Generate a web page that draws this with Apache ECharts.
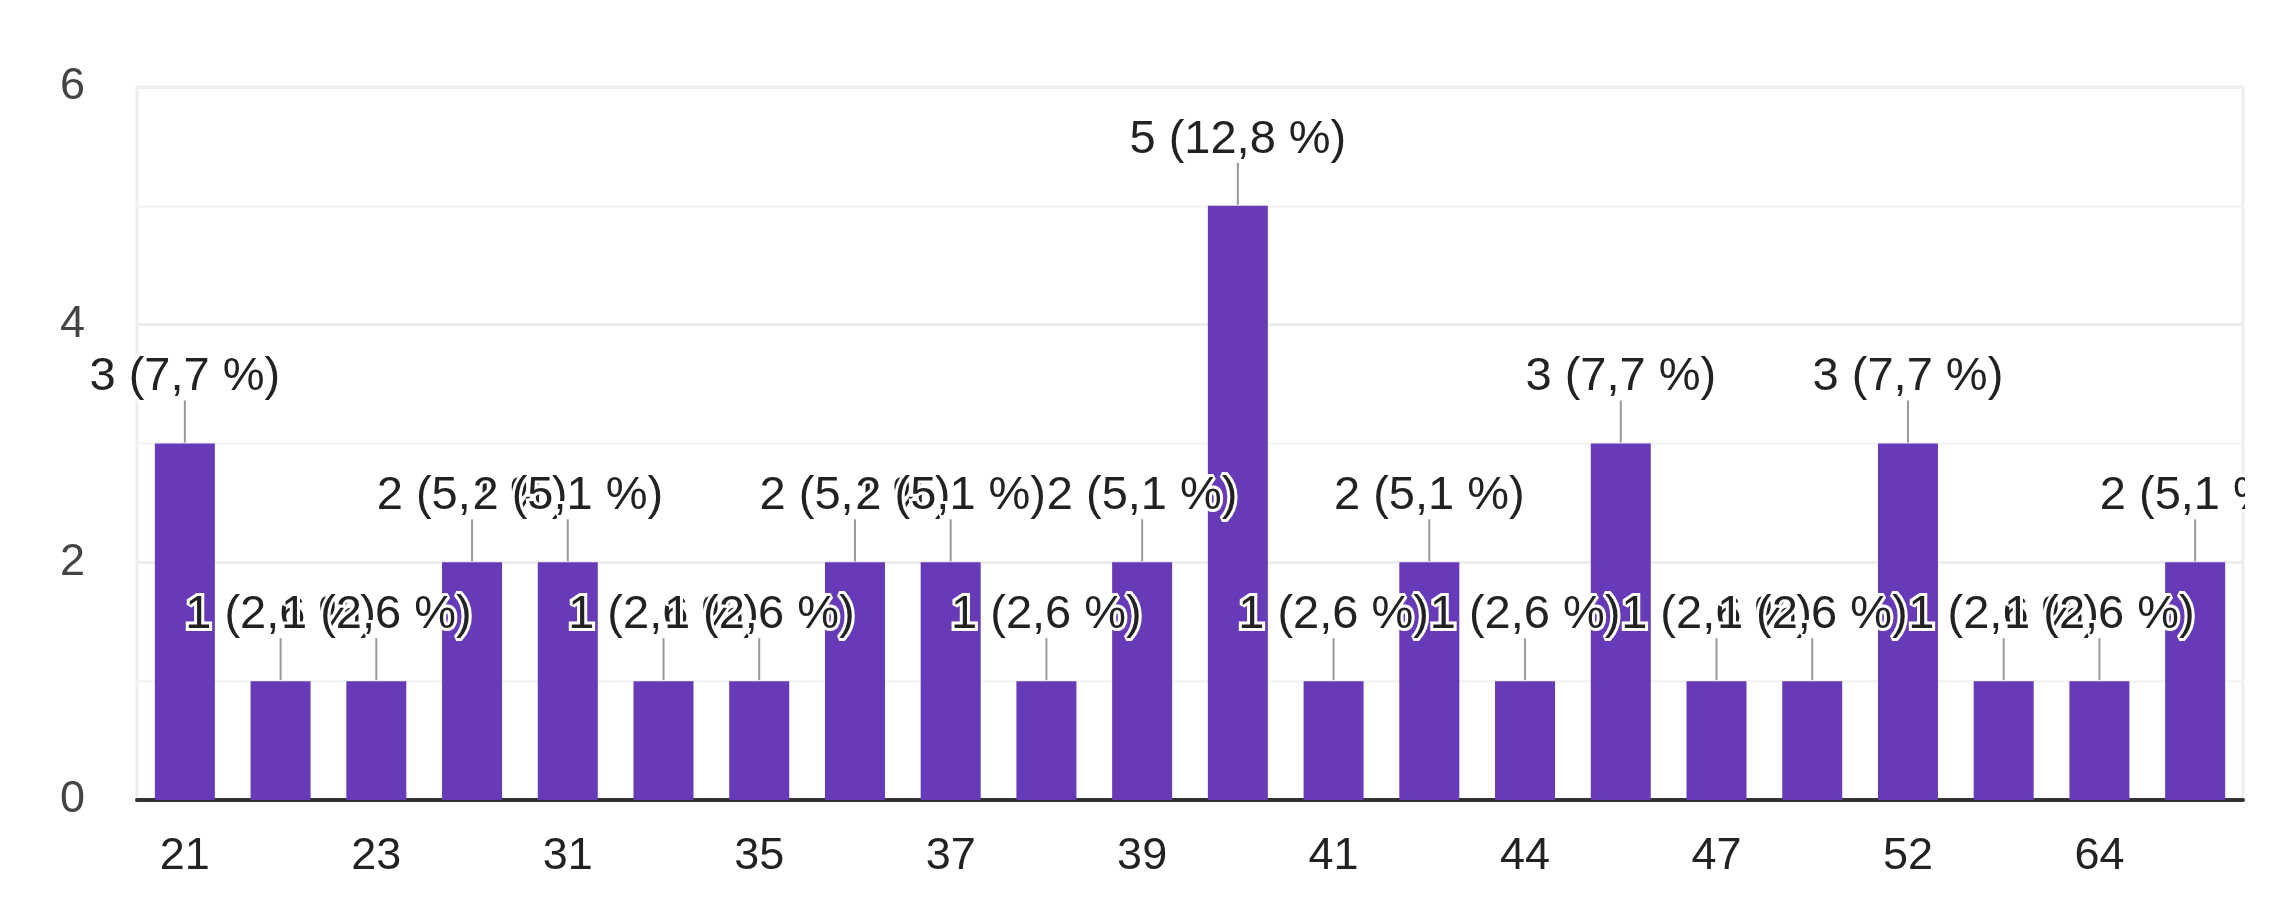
<!DOCTYPE html>
<html>
<head>
<meta charset="utf-8">
<title>chart</title>
<script src="https://cdn.jsdelivr.net/npm/echarts@6/dist/echarts.min.js"></script>
<style>
  html, body { margin: 0; padding: 0; background: #fff; }
  #main { width: 2269px; height: 917px; }
</style>
</head>
<body>
<div id="main"></div>
<script>
// ages (only every other one is printed on the axis)
const categories = ['21', '22', '23', '25', '31', '33', '35', '36', '37', '38', '39',
  '40', '41', '42', '44', '45', '47', '50', '52', '60', '64', '65'];
// number of answers per age
const counts = [3, 1, 1, 2, 2, 1, 1, 2, 2, 1, 2, 5, 1, 2, 1, 3, 1, 1, 3, 1, 1, 2];
const yTicks = [0, 2, 4, 6];

const total = counts.reduce((a, b) => a + b, 0);
const fontFamily = '"Liberation Sans", Arial, sans-serif';

function labelText(v) {
  let pct = (v / total * 100).toFixed(1).replace('.', ',');
  return v + ' (' + pct + ' %)';
}

const chart = echarts.init(document.getElementById('main'));

let option = {
  animation: false,
  grid: {
    left: 137, right: 26, top: 87, bottom: 117,
    show: true,
    borderColor: '#eeeeee',
    borderWidth: 3
  },
  xAxis: {
    type: 'category',
    data: categories,
    axisLine: { lineStyle: { color: '#333', width: 4 } },
    axisTick: { show: false },
    axisLabel: {
      interval: 1,
      margin: 34,
      color: '#222',
      fontSize: 45,
      fontFamily: fontFamily
    }
  },
  yAxis: {
    type: 'value',
    min: yTicks[0],
    max: yTicks[yTicks.length - 1],
    interval: 2,
    axisLine: { show: false },
    axisTick: { show: false },
    axisLabel: {
      margin: 52,
      color: '#444',
      fontSize: 45,
      fontFamily: fontFamily
    },
    splitLine: { lineStyle: { color: '#eeeeee', width: 3 } },
    minorTick: { show: false, splitNumber: 2 },
    minorSplitLine: { show: true, lineStyle: { color: '#f5f5f5', width: 3 } }
  },
  series: [
    {
      type: 'bar',
      data: counts,
      barWidth: 60,
      itemStyle: { color: '#673ab7' },
      z: 2
    },
    {
      // stem + annotation above every bar, drawn in order so later ones cover earlier ones
      type: 'custom',
      data: counts.map((v, i) => [i, v]),
      z: 5,
      renderItem: function (params, api) {
        let p = api.coord([api.value(0), api.value(1)]);
        let txt = labelText(api.value(1));
        let font = '47px ' + fontFamily;
        return {
          type: 'group',
          children: [
            {
              type: 'line',
              shape: { x1: p[0], y1: p[1] - 1, x2: p[0], y2: p[1] - 43 },
              style: { stroke: '#999', lineWidth: 2 }
            },
            {
              // white halo first
              type: 'text',
              x: p[0],
              y: p[1] - 66,
              style: {
                text: txt, font: font,
                fill: '#fff', stroke: '#fff', lineWidth: 6,
                align: 'center', verticalAlign: 'middle'
              }
            },
            {
              type: 'text',
              x: p[0],
              y: p[1] - 66,
              style: {
                text: txt, font: font,
                fill: '#222',
                align: 'center', verticalAlign: 'middle'
              }
            }
          ]
        };
      }
    }
  ],
  graphic: [
    {
      // chart area ends at the right border, labels get cut there
      type: 'rect',
      right: 0, top: 0,
      shape: { width: 24, height: 917 },
      style: { fill: '#fff' },
      z: 100
    }
  ]
};

chart.setOption(option);
</script>
</body>
</html>
